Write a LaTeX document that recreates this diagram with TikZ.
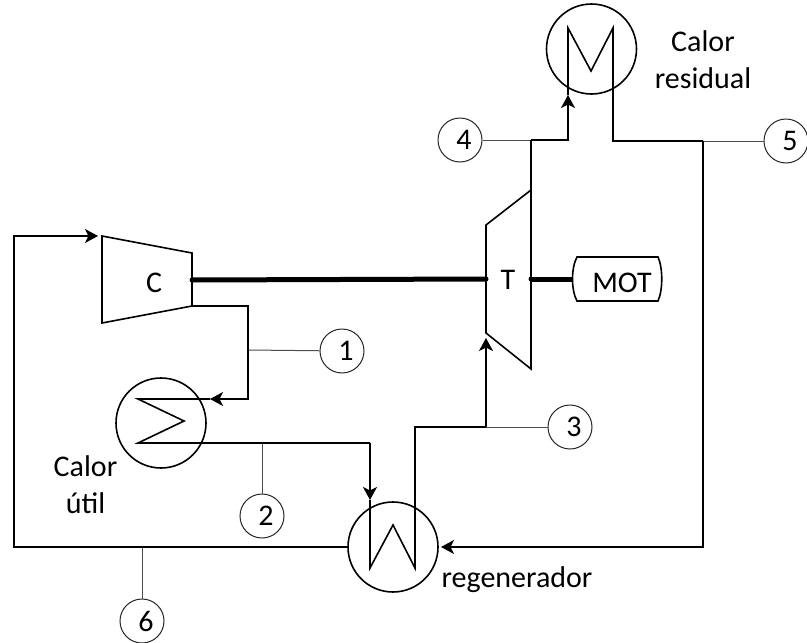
\documentclass[tikz,border=0pt]{standalone}
\usepackage{fontspec}
\setmainfont{Carlito}
\usetikzlibrary{arrows.meta,calc}
\newcommand\numtxt[1]{\raisebox{-2pt}{\kern 8pt #1}}
\tikzset{
  pipe/.style={draw=black,line width=1.6pt,line join=miter},
  flow/.style={pipe,-{Stealth[length=13pt,width=14pt,inset=3.5pt]}},
  tag/.style={draw=black!70,line width=1pt},
  shaft/.style={draw=black,line width=5pt},
  unit/.style={draw=black,line width=1.6pt},
  hx/.style={circle,draw=black,line width=1.6pt,minimum size=90pt,inner sep=0pt},
  numb/.style={circle,draw=black!85,line width=1pt,minimum size=44pt,inner sep=0pt,font=\fontsize{30}{30}\selectfont},
  lbl/.style={font=\fontsize{30}{37}\selectfont,inner sep=0pt,align=center}
}
\begin{document}
\begin{tikzpicture}[x=1pt,y=-1pt]
\useasboundingbox (0,0) rectangle (807,643);
% heat exchangers
\node[hx] (hres) at (591.5,49) {};
\node[hx] (hutil) at (161,423) {};
\node[hx] (hreg) at (393,547) {};
% number tags
\node[numb] (n1) at (342,351) {\numtxt{1}};
\node[numb] (n2) at (262,516) {\numtxt{2}};
\node[numb] (n3) at (570,427) {\numtxt{3}};
\node[numb] (n4) at (460,140) {\numtxt{4}};
\node[numb] (n5) at (786,141) {\numtxt{5}};
\node[numb] (n6) at (142,621) {\numtxt{6}};
% machine corners
\coordinate (c1) at (102,236); \coordinate (c2) at (192,253);
\coordinate (c3) at (192,306); \coordinate (c4) at (102,323);
\coordinate (t1) at (486,225); \coordinate (t2) at (531,190);
\coordinate (t3) at (531,369); \coordinate (t4) at (486,333);
\draw[unit,line join=miter] (c1) -- (c2) -- (c3) -- (c4) -- cycle;
\draw[unit,line join=miter] (t1) -- (t2) -- (t3) -- (t4) -- cycle;
% motor
\coordinate (ma) at (577,257); \coordinate (mb) at (658,257);
\coordinate (mc) at (658,301); \coordinate (md) at (577,301);
\coordinate (ml) at (573,279); \coordinate (mr) at (663,279);
\draw[unit] (ma) -- (mb) .. controls (663,268) and (663,290) .. (mc) -- (md)
   .. controls (571,290) and (571,268) .. (ma) -- cycle;
% shafts
\coordinate (sc) at (192,280); \coordinate (stl) at (486,279); \coordinate (str) at (531,279);
\draw[shaft] (sc) -- (stl);
\draw[shaft] (str) -- (ml);
\fill (sc) circle (2.5pt); \fill (stl) circle (2.5pt); \fill (str) circle (2.5pt);
% junction points
\coordinate (j1) at (248,350); \coordinate (j2) at (262,443);
\coordinate (j3) at (486,427); \coordinate (j4) at (531,140);
\coordinate (j5) at (703,141); \coordinate (j6) at (142,547);
% thin tag leaders
\draw[tag] (j1) -- (n1);
\draw[tag] (j2) -- (n2);
\draw[tag] (j3) -- (n3);
\draw[tag] (j4) -- (n4);
\draw[tag] (j5) -- (n5);
\draw[tag] (j6) -- (n6);
% arrow tips
\coordinate (tipA) at (568,95); \coordinate (tipB) at (210,399);
\coordinate (tipC) at (370,500); \coordinate (tipD) at (441,547);
\coordinate (tipE) at (98,236); \coordinate (tipF) at (486,338);
% circuit
\draw[flow] (c3) -- (248,306) -- (248,399) -- (tipB);
\draw[pipe] (tipB) -- (138,399) -- (184,421) -- (138,443) -- (370,443);
\draw[flow] (370,443) -- (tipC);
\draw[pipe] (tipC) -- (370,568) -- (393,525) -- (415,568) -- (415,427) -- (j3);
\draw[flow] (j3) -- (tipF);
\draw[pipe] (t2) -- (j4);
\draw[flow] (j4) -- (568,140) -- (tipA);
\draw[pipe] (tipA) -- (568,28) -- (591,71) -- (613,28) -- (613,141) -- (j5);
\draw[flow] (j5) -- (703,547) -- (tipD);
\draw[flow] (hreg.west) -- (j6) -- (14,547) -- (14,236) -- (tipE);
% labels
\node[lbl] (lc) at (154,283) {C};
\node[lbl] (lt) at (508,280) {T};
\node[lbl] (lm) at (622,283) {MOT};
\node[lbl] (lr) at (703,60) {Calor\\residual};
\node[lbl] (lu) at (85.5,485) {Calor\\útil};
\node[lbl] (lg) at (517,580) {regenerador};
\end{tikzpicture}
\end{document}
